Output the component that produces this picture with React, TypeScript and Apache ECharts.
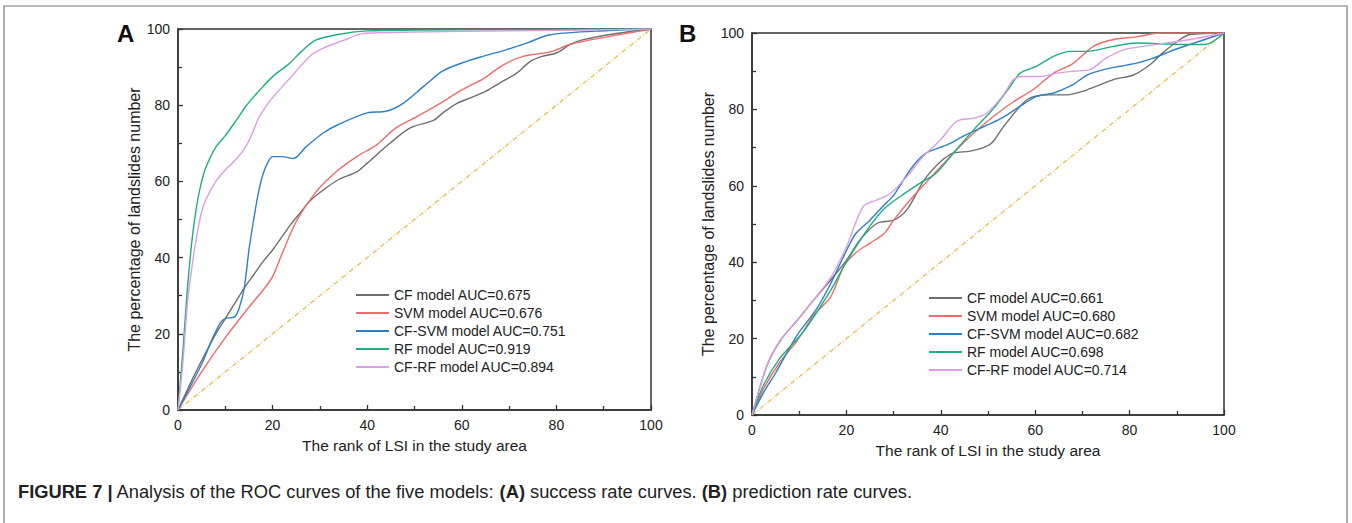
import React, { useEffect, useRef } from "react";
import * as echarts from "echarts";

// ---------- Panel A (success rate curves) ----------
const aNames = [
  "CF model AUC=0.675",
  "SVM model AUC=0.676",
  "CF-SVM model AUC=0.751",
  "RF model AUC=0.919",
  "CF-RF model AUC=0.894",
];
const aCF: [number, number][] = [
  [0, 0], [3, 8], [5, 13], [8, 20], [10, 24], [12, 28], [14, 32], [16, 35.5], [18, 39], [20, 42],
  [22, 45.5], [24, 49], [26, 52], [28, 55], [31, 58], [34, 60.5], [37.8, 62.5], [40, 64.8],
  [44.8, 70], [49, 74], [54, 76], [56, 78], [59, 80.5], [62, 82], [65, 83.6], [68, 85.8],
  [71.6, 88.4], [74.5, 91.5], [77, 92.8], [80, 93.7], [83, 96], [85.7, 97.2], [91, 98.5], [100, 100],
];
const aSVM: [number, number][] = [
  [0, 0], [5, 10], [10, 19], [15, 27], [18, 31.5], [20, 35], [22, 41], [25, 49.5], [29, 57],
  [33.5, 62.6], [37.8, 66.5], [42, 69.6], [46, 74], [50.5, 77], [55.4, 80.5], [60, 84],
  [64.6, 87], [68.8, 90.6], [73, 92.8], [78.7, 94], [83, 96], [91, 98], [100, 100],
];
const aCFSVM: [number, number][] = [
  [0, 0], [5, 12], [7, 18], [9, 23], [10, 24], [12, 24.5], [13, 27], [14, 32], [15, 42],
  [16, 50], [17, 57], [18, 62], [19, 65], [20, 66.5], [22, 66.5], [24.4, 66], [27, 69],
  [30.7, 72.7], [34, 75], [40, 78], [44, 78.4], [47.6, 80.5], [52, 85], [56, 89], [61, 91.5],
  [65, 93], [69.5, 94.6], [73.7, 96.3], [78.7, 98.5], [91, 99.6], [100, 100],
];
const aRF: [number, number][] = [
  [0, 0], [1, 15], [2, 32], [3, 45], [4, 54], [5, 60], [6, 64], [8, 69], [10, 72], [12.3, 76],
  [14.5, 80], [17.3, 84], [20, 87.5], [23.6, 91], [26, 94], [29, 97], [33.5, 98.5], [40, 99.5],
  [50, 99.7], [70, 99.8], [100, 100],
];
const aCFRF: [number, number][] = [
  [0, 0], [1, 12], [2, 28], [3, 38], [4, 46], [5, 52], [6, 55.5], [8, 60], [10, 63],
  [12, 65.5], [14, 68.5], [15.5, 72], [17, 76.5], [18.5, 79.5], [20, 82], [23.6, 87], [28, 93],
  [30.7, 95], [35, 97], [39, 98.8], [50, 99.2], [70, 99.5], [90, 99.8], [100, 100],
];

// ---------- Panel B (prediction rate curves) ----------
const bNames = [
  "CF model AUC=0.661",
  "SVM model AUC=0.680",
  "CF-SVM model AUC=0.682",
  "RF model AUC=0.698",
  "CF-RF model AUC=0.714",
];
const bCF: [number, number][] = [
  [0, 0], [3.2, 13], [6, 19.5], [9.6, 24.8], [13, 30], [16.7, 35.4], [20, 40.5], [23, 46],
  [26.5, 50.2], [30, 51], [32.8, 53.7], [37, 62.4], [42.7, 68.6], [46, 69], [49, 70],
  [50.8, 71.2], [53.3, 75.5], [56.8, 80.8], [58.9, 83], [62.5, 83.8], [66.7, 83.8], [70, 84.7],
  [76.6, 87.8], [80.8, 89], [84.3, 91.7], [87, 94.8], [90.7, 98.3], [92.8, 99.6], [100, 100],
];
const bSVM: [number, number][] = [
  [0, 0], [2.5, 7], [6, 14], [9.6, 19.5], [13, 26], [16.7, 31], [19.5, 39], [22, 42.5],
  [25, 45], [28, 47.5], [30, 51], [34, 57], [38.5, 63], [42.7, 68.6], [47, 73.8], [51, 78],
  [55.4, 82], [59.6, 85.2], [63.9, 89.5], [68, 92], [72.3, 96.5], [76.6, 98.3], [81.5, 99],
  [86.4, 100], [100, 100],
];
const bCFSVM: [number, number][] = [
  [0, 0], [2.5, 6], [5, 11], [7.5, 16.5], [9.6, 21], [13.8, 28], [16.7, 34.5], [20, 43], [22, 47.5],
  [25, 51], [28, 55], [30, 57.5], [34, 65], [37, 68.6], [41.3, 70.7], [44.8, 73], [50, 76],
  [53.3, 78], [56.8, 80.8], [60.3, 83.4], [63.9, 84.3], [68, 86.5], [71, 89], [74.5, 90.4],
  [78, 91.3], [81.5, 92.1], [85, 93.4], [88.6, 95.2], [92.8, 97], [100, 100],
];
const bRF: [number, number][] = [
  [0, 0], [2.5, 8], [6, 15], [11, 22], [16.7, 32.7], [19.5, 39], [22, 44], [25, 49.5],
  [28, 54], [31.4, 57.2], [35.6, 60.7], [39, 63.3], [42.7, 68.6], [47, 74.7], [51, 80],
  [54.7, 86], [56.8, 89.5], [60.3, 91.3], [63.9, 93.9], [67.4, 95.2], [71, 95.2], [76.6, 96.5],
  [81.5, 97.4], [86.4, 97.2], [92.8, 97], [96, 97], [100, 100],
];
const bCFRF: [number, number][] = [
  [0, 0], [3.2, 13], [6, 19.5], [9.6, 24.8], [13, 30], [16.7, 36], [20, 44], [23.6, 54.6],
  [26.5, 56.3], [29.3, 58], [32.8, 62.4], [36.3, 67.7], [39.9, 72], [43.4, 76.9], [47, 77.7],
  [49.7, 79], [53.3, 83.8], [55.4, 87.8], [57.5, 88.6], [61, 88.6], [64.6, 89.5], [68, 90],
  [71.6, 90.4], [75, 93.4], [78.7, 95.6], [82.9, 96.5], [87.9, 97.4], [92.8, 98.3], [100, 100],
];

const diagonal: [number, number][] = [[0, 0], [100, 100]];
const xTicks = [0, 20, 40, 60, 80, 100];

const colors = ["#6e6e6e", "#f06b6b", "#2f7fc6", "#1fae80", "#d99fe2"];
const FONT = "Liberation Sans, Arial, sans-serif";

export default function App() {
  const ref = useRef<HTMLDivElement>(null);
  useEffect(() => {
    if (!ref.current) return;
    const chart = echarts.init(ref.current, undefined, { renderer: "svg" });

    const mkX = (gi: number) => ({
      type: "value",
      gridIndex: gi,
      min: 0,
      max: 100,
      interval: 20,
      name: "The rank of LSI in the study area",
      nameLocation: "middle",
      nameGap: 27,
      nameTextStyle: { fontSize: 15.5, color: "#222", fontFamily: FONT },
      axisLine: { show: true, lineStyle: { color: "#333", width: 1.5 } },
      axisTick: { show: true, inside: true, length: 5, lineStyle: { color: "#333", width: 1.3 } },
      minorTick: { show: true, splitNumber: 2, length: 4, lineStyle: { color: "#333", width: 1.3 } },
      axisLabel: {
        fontSize: 14, color: "#222", fontFamily: FONT, margin: 8,
        formatter: (v: number) => (xTicks.includes(v) ? String(v) : ""),
      },
      splitLine: { show: false },
    });
    const mkY = (gi: number) => ({
      type: "value",
      gridIndex: gi,
      min: 0,
      max: 100,
      interval: 20,
      name: "The percentage of landslides number",
      nameLocation: "middle",
      nameGap: 28,
      nameTextStyle: { fontSize: 16, color: "#222", fontFamily: FONT },
      axisLine: { show: true, lineStyle: { color: "#333", width: 1.5 } },
      axisTick: { show: true, inside: true, length: 5, lineStyle: { color: "#333", width: 1.3 } },
      minorTick: { show: true, splitNumber: 2, length: 4, lineStyle: { color: "#333", width: 1.3 } },
      axisLabel: { fontSize: 14, color: "#222", fontFamily: FONT, margin: 8 },
      splitLine: { show: false },
    });

    const mkSeries = (names: string[], datas: [number, number][][], gi: number) =>
      names.map((n, i) => ({
        type: "line",
        name: n,
        xAxisIndex: gi,
        yAxisIndex: gi,
        data: datas[i],
        smooth: 0.3,
        symbol: "none",
        lineStyle: { color: colors[i], width: 1.4 },
        itemStyle: { color: colors[i] },
        z: 3,
      }));

    const diagSeries = (gi: number) => ({
      type: "line",
      name: "diag" + gi,
      xAxisIndex: gi,
      yAxisIndex: gi,
      data: diagonal,
      symbol: "none",
      lineStyle: { color: "#e6bf52", width: 1.3, type: [5, 2, 1, 2] },
      z: 2,
    });

    const legendCommon = {
      orient: "vertical",
      itemWidth: 33,
      itemHeight: 14,
      itemGap: 4,
      itemStyle: { opacity: 0 },
      textStyle: { fontSize: 14, color: "#222", fontFamily: FONT },
      padding: 0,
    };

    chart.setOption({
      animation: false,
      backgroundColor: "#fff",
      grid: [
        { left: 178, top: 29, width: 473, height: 381, show: true, borderColor: "#333", borderWidth: 1.5, backgroundColor: "transparent" },
        { left: 752, top: 33, width: 472, height: 382, show: true, borderColor: "#333", borderWidth: 1.5, backgroundColor: "transparent" },
      ],
      xAxis: [mkX(0), mkX(1)],
      yAxis: [mkY(0), mkY(1)],
      legend: [
        { ...legendCommon, data: aNames, left: 355, top: 288 },
        { ...legendCommon, data: bNames, left: 928, top: 291 },
      ],
      series: [
        diagSeries(0),
        ...mkSeries(aNames, [aCF, aSVM, aCFSVM, aRF, aCFRF], 0),
        diagSeries(1),
        ...mkSeries(bNames, [bCF, bSVM, bCFSVM, bRF, bCFRF], 1),
      ],
      graphic: [
        {
          type: "rect",
          shape: { x: 4, y: 6, width: 1343, height: 540 },
          style: { fill: "none", stroke: "#777", lineWidth: 1.2 },
          silent: true,
        },
        {
          type: "text",
          left: 117,
          top: 21,
          style: { text: "A", font: `bold 24px ${FONT}`, fill: "#111" },
        },
        {
          type: "text",
          left: 679,
          top: 21,
          style: { text: "B", font: `bold 24px ${FONT}`, fill: "#111" },
        },
        {
          type: "text",
          left: 18,
          top: 482,
          style: {
            text: "{b|FIGURE 7 |} Analysis of the ROC curves of the five models: {b|(A)} success rate curves. {b|(B)} prediction rate curves.",
            font: `18.3px ${FONT}`,
            fill: "#222",
            rich: {
              b: { fontWeight: "bold", fontSize: 18.3, fontFamily: FONT, fill: "#222" },
            },
          },
        },
      ],
    });
    return () => chart.dispose();
  }, []);
  return (
    <div
      ref={ref}
      style={{ position: "fixed", left: 0, top: 0, width: 1352, height: 523 }}
    />
  );
}
